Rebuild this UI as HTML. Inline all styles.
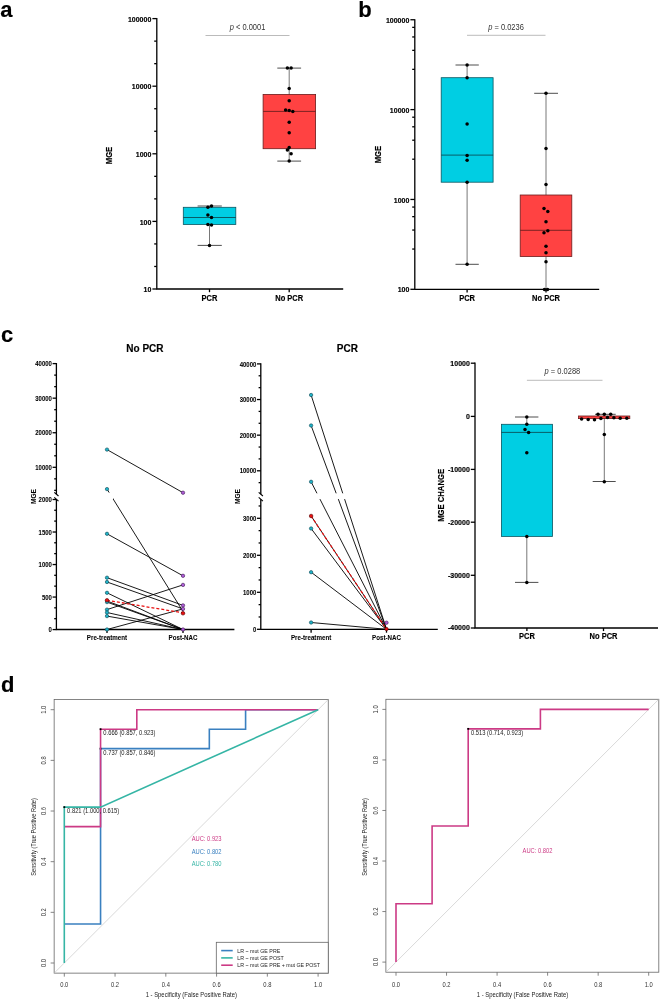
<!DOCTYPE html>
<html><head><meta charset="utf-8"><style>
html,body{margin:0;padding:0;background:#fff;width:660px;height:999px;overflow:hidden}
svg{display:block;font-family:"Liberation Sans",sans-serif;-webkit-font-smoothing:antialiased;will-change:transform}
</style></head><body>
<svg width="660" height="999" viewBox="0 0 660 999">
<rect width="660" height="999" fill="#fff"/>
<text transform="translate(0.30 17.20) scale(1 1.0)" font-size="22" text-anchor="start" font-weight="bold" fill="#000" stroke="#000" stroke-width="0.15" >a</text>
<text transform="translate(358.30 17.20) scale(1 1.0)" font-size="22" text-anchor="start" font-weight="bold" fill="#000" stroke="#000" stroke-width="0.15" >b</text>
<text transform="translate(1.00 341.90) scale(1 1.0)" font-size="22" text-anchor="start" font-weight="bold" fill="#000" stroke="#000" stroke-width="0.15" >c</text>
<text transform="translate(1.00 691.70) scale(1 1.0)" font-size="22" text-anchor="start" font-weight="bold" fill="#000" stroke="#000" stroke-width="0.15" >d</text>
<path d="M156.8,18.0 V289.0 H343.2" fill="none" stroke="#000" stroke-width="1.3" stroke-linecap="butt"/>
<line x1="152.40" y1="289.00" x2="156.80" y2="289.00" stroke="#000" stroke-width="1.3" />
<text transform="translate(151.30 292.10) scale(1 1.12)" font-size="7" text-anchor="end" font-weight="bold" fill="#000" stroke="#000" stroke-width="0.15" >10</text>
<line x1="154.20" y1="266.47" x2="156.80" y2="266.47" stroke="#000" stroke-width="1.3" />
<line x1="154.20" y1="243.93" x2="156.80" y2="243.93" stroke="#000" stroke-width="1.3" />
<line x1="152.40" y1="221.40" x2="156.80" y2="221.40" stroke="#000" stroke-width="1.3" />
<text transform="translate(151.30 224.50) scale(1 1.12)" font-size="7" text-anchor="end" font-weight="bold" fill="#000" stroke="#000" stroke-width="0.15" >100</text>
<line x1="154.20" y1="198.87" x2="156.80" y2="198.87" stroke="#000" stroke-width="1.3" />
<line x1="154.20" y1="176.33" x2="156.80" y2="176.33" stroke="#000" stroke-width="1.3" />
<line x1="152.40" y1="153.80" x2="156.80" y2="153.80" stroke="#000" stroke-width="1.3" />
<text transform="translate(151.30 156.90) scale(1 1.12)" font-size="7" text-anchor="end" font-weight="bold" fill="#000" stroke="#000" stroke-width="0.15" >1000</text>
<line x1="154.20" y1="131.27" x2="156.80" y2="131.27" stroke="#000" stroke-width="1.3" />
<line x1="154.20" y1="108.73" x2="156.80" y2="108.73" stroke="#000" stroke-width="1.3" />
<line x1="152.40" y1="86.20" x2="156.80" y2="86.20" stroke="#000" stroke-width="1.3" />
<text transform="translate(151.30 89.30) scale(1 1.12)" font-size="7" text-anchor="end" font-weight="bold" fill="#000" stroke="#000" stroke-width="0.15" >10000</text>
<line x1="154.20" y1="63.67" x2="156.80" y2="63.67" stroke="#000" stroke-width="1.3" />
<line x1="154.20" y1="41.13" x2="156.80" y2="41.13" stroke="#000" stroke-width="1.3" />
<line x1="152.40" y1="18.60" x2="156.80" y2="18.60" stroke="#000" stroke-width="1.3" />
<text transform="translate(151.30 21.70) scale(1 1.12)" font-size="7" text-anchor="end" font-weight="bold" fill="#000" stroke="#000" stroke-width="0.15" >100000</text>
<line x1="209.50" y1="289.00" x2="209.50" y2="292.20" stroke="#000" stroke-width="1.3" />
<line x1="289.20" y1="289.00" x2="289.20" y2="292.20" stroke="#000" stroke-width="1.3" />
<text transform="translate(209.50 300.80) scale(1 1.12)" font-size="7.5" text-anchor="middle" font-weight="bold" fill="#000" stroke="#000" stroke-width="0.15" >PCR</text>
<text transform="translate(289.20 300.80) scale(1 1.12)" font-size="7.5" text-anchor="middle" font-weight="bold" fill="#000" stroke="#000" stroke-width="0.15" >No PCR</text>
<text transform="translate(111.80 155.50) rotate(-90) scale(1 1.12)" font-size="7.7" text-anchor="middle" font-weight="bold" fill="#000" stroke="#000" stroke-width="0.15" >MGE</text>
<line x1="205.50" y1="35.50" x2="289.50" y2="35.50" stroke="#aaa" stroke-width="0.8" />
<text transform="translate(247.50 30.00) scale(1 1.12)" font-size="7.5" text-anchor="middle" font-weight="normal" fill="#333" ><tspan font-style="italic">p</tspan> &lt; 0.0001</text>
<line x1="209.50" y1="206.00" x2="209.50" y2="245.40" stroke="#555" stroke-width="0.8" />
<line x1="197.60" y1="206.00" x2="221.80" y2="206.00" stroke="#3a3a3a" stroke-width="0.9" />
<line x1="197.60" y1="245.40" x2="221.80" y2="245.40" stroke="#3a3a3a" stroke-width="0.9" />
<rect x="183.30" y="207.30" width="52.50" height="17.20" fill="#00CEE3" stroke="#0a5560" stroke-width="0.8"/>
<line x1="183.30" y1="217.50" x2="235.80" y2="217.50" stroke="#0a4048" stroke-width="0.8" />
<circle cx="207.90" cy="207.30" r="1.75" fill="#000"/>
<circle cx="211.50" cy="206.00" r="1.75" fill="#000"/>
<circle cx="207.90" cy="215.10" r="1.75" fill="#000"/>
<circle cx="211.50" cy="217.60" r="1.75" fill="#000"/>
<circle cx="207.90" cy="224.50" r="1.75" fill="#000"/>
<circle cx="211.50" cy="225.10" r="1.75" fill="#000"/>
<circle cx="209.50" cy="245.40" r="1.75" fill="#000"/>
<line x1="289.20" y1="68.10" x2="289.20" y2="161.10" stroke="#555" stroke-width="0.8" />
<line x1="277.30" y1="68.10" x2="301.10" y2="68.10" stroke="#3a3a3a" stroke-width="0.9" />
<line x1="277.30" y1="161.10" x2="301.10" y2="161.10" stroke="#3a3a3a" stroke-width="0.9" />
<rect x="263.10" y="94.40" width="52.50" height="54.30" fill="#FF4242" stroke="#6a1c1c" stroke-width="0.8"/>
<line x1="263.10" y1="111.40" x2="315.60" y2="111.40" stroke="#5a1a1a" stroke-width="0.8" />
<circle cx="287.40" cy="68.10" r="1.75" fill="#000"/>
<circle cx="291.10" cy="68.10" r="1.75" fill="#000"/>
<circle cx="289.20" cy="88.60" r="1.75" fill="#000"/>
<circle cx="289.20" cy="100.80" r="1.75" fill="#000"/>
<circle cx="285.60" cy="109.90" r="1.75" fill="#000"/>
<circle cx="289.20" cy="110.60" r="1.75" fill="#000"/>
<circle cx="292.80" cy="111.40" r="1.75" fill="#000"/>
<circle cx="289.20" cy="122.20" r="1.75" fill="#000"/>
<circle cx="289.20" cy="132.70" r="1.75" fill="#000"/>
<circle cx="289.20" cy="147.40" r="1.75" fill="#000"/>
<circle cx="287.40" cy="150.10" r="1.75" fill="#000"/>
<circle cx="291.10" cy="153.70" r="1.75" fill="#000"/>
<circle cx="289.20" cy="161.10" r="1.75" fill="#000"/>
<path d="M414.8,19.2 V289.3 H599.2" fill="none" stroke="#000" stroke-width="1.3" />
<line x1="410.40" y1="289.30" x2="414.80" y2="289.30" stroke="#000" stroke-width="1.3" />
<text transform="translate(409.30 292.40) scale(1 1.12)" font-size="7" text-anchor="end" font-weight="bold" fill="#000" stroke="#000" stroke-width="0.15" >100</text>
<line x1="412.20" y1="207.05" x2="414.80" y2="207.05" stroke="#000" stroke-width="1.3" />
<line x1="412.20" y1="216.65" x2="414.80" y2="216.65" stroke="#000" stroke-width="1.3" />
<line x1="412.20" y1="230.05" x2="414.80" y2="230.05" stroke="#000" stroke-width="1.3" />
<line x1="412.20" y1="249.05" x2="414.80" y2="249.05" stroke="#000" stroke-width="1.3" />
<line x1="410.40" y1="199.45" x2="414.80" y2="199.45" stroke="#000" stroke-width="1.3" />
<text transform="translate(409.30 202.55) scale(1 1.12)" font-size="7" text-anchor="end" font-weight="bold" fill="#000" stroke="#000" stroke-width="0.15" >1000</text>
<line x1="412.20" y1="117.20" x2="414.80" y2="117.20" stroke="#000" stroke-width="1.3" />
<line x1="412.20" y1="126.80" x2="414.80" y2="126.80" stroke="#000" stroke-width="1.3" />
<line x1="412.20" y1="140.20" x2="414.80" y2="140.20" stroke="#000" stroke-width="1.3" />
<line x1="412.20" y1="159.20" x2="414.80" y2="159.20" stroke="#000" stroke-width="1.3" />
<line x1="410.40" y1="109.60" x2="414.80" y2="109.60" stroke="#000" stroke-width="1.3" />
<text transform="translate(409.30 112.70) scale(1 1.12)" font-size="7" text-anchor="end" font-weight="bold" fill="#000" stroke="#000" stroke-width="0.15" >10000</text>
<line x1="412.20" y1="27.35" x2="414.80" y2="27.35" stroke="#000" stroke-width="1.3" />
<line x1="412.20" y1="36.95" x2="414.80" y2="36.95" stroke="#000" stroke-width="1.3" />
<line x1="412.20" y1="50.35" x2="414.80" y2="50.35" stroke="#000" stroke-width="1.3" />
<line x1="412.20" y1="69.35" x2="414.80" y2="69.35" stroke="#000" stroke-width="1.3" />
<line x1="410.40" y1="19.75" x2="414.80" y2="19.75" stroke="#000" stroke-width="1.3" />
<text transform="translate(409.30 22.85) scale(1 1.12)" font-size="7" text-anchor="end" font-weight="bold" fill="#000" stroke="#000" stroke-width="0.15" >100000</text>
<line x1="467.10" y1="289.30" x2="467.10" y2="292.50" stroke="#000" stroke-width="1.3" />
<line x1="546.00" y1="289.30" x2="546.00" y2="292.50" stroke="#000" stroke-width="1.3" />
<text transform="translate(467.10 300.80) scale(1 1.12)" font-size="7.5" text-anchor="middle" font-weight="bold" fill="#000" stroke="#000" stroke-width="0.15" >PCR</text>
<text transform="translate(546.00 300.80) scale(1 1.12)" font-size="7.5" text-anchor="middle" font-weight="bold" fill="#000" stroke="#000" stroke-width="0.15" >No PCR</text>
<text transform="translate(381.40 154.60) rotate(-90) scale(1 1.12)" font-size="7.7" text-anchor="middle" font-weight="bold" fill="#000" stroke="#000" stroke-width="0.15" >MGE</text>
<line x1="467.00" y1="35.30" x2="545.50" y2="35.30" stroke="#aaa" stroke-width="0.8" />
<text transform="translate(506.00 29.80) scale(1 1.12)" font-size="7.5" text-anchor="middle" font-weight="normal" fill="#333" ><tspan font-style="italic">p</tspan> = 0.0236</text>
<line x1="467.10" y1="65.00" x2="467.10" y2="264.30" stroke="#555" stroke-width="0.8" />
<line x1="455.50" y1="65.00" x2="478.80" y2="65.00" stroke="#3a3a3a" stroke-width="0.9" />
<line x1="455.50" y1="264.30" x2="478.80" y2="264.30" stroke="#3a3a3a" stroke-width="0.9" />
<rect x="441.20" y="77.70" width="51.90" height="104.50" fill="#00CEE3" stroke="#0a5560" stroke-width="0.8"/>
<line x1="441.20" y1="155.10" x2="493.10" y2="155.10" stroke="#0a4048" stroke-width="0.8" />
<circle cx="467.10" cy="65.00" r="1.75" fill="#000"/>
<circle cx="467.10" cy="77.70" r="1.75" fill="#000"/>
<circle cx="467.10" cy="124.00" r="1.75" fill="#000"/>
<circle cx="467.10" cy="155.50" r="1.75" fill="#000"/>
<circle cx="467.10" cy="160.20" r="1.75" fill="#000"/>
<circle cx="467.10" cy="182.20" r="1.75" fill="#000"/>
<circle cx="467.10" cy="264.30" r="1.75" fill="#000"/>
<line x1="546.00" y1="93.30" x2="546.00" y2="289.30" stroke="#555" stroke-width="0.8" />
<line x1="534.20" y1="93.30" x2="558.00" y2="93.30" stroke="#3a3a3a" stroke-width="0.9" />
<rect x="520.20" y="195.00" width="51.60" height="61.50" fill="#FF4242" stroke="#6a1c1c" stroke-width="0.8"/>
<line x1="520.20" y1="230.30" x2="571.80" y2="230.30" stroke="#5a1a1a" stroke-width="0.8" />
<circle cx="546.00" cy="93.30" r="1.75" fill="#000"/>
<circle cx="546.00" cy="148.60" r="1.75" fill="#000"/>
<circle cx="546.00" cy="184.40" r="1.75" fill="#000"/>
<circle cx="544.00" cy="208.40" r="1.75" fill="#000"/>
<circle cx="547.80" cy="211.40" r="1.75" fill="#000"/>
<circle cx="546.00" cy="221.80" r="1.75" fill="#000"/>
<circle cx="547.80" cy="230.80" r="1.75" fill="#000"/>
<circle cx="544.00" cy="232.80" r="1.75" fill="#000"/>
<circle cx="546.00" cy="246.20" r="1.75" fill="#000"/>
<circle cx="546.00" cy="252.70" r="1.75" fill="#000"/>
<circle cx="546.00" cy="261.70" r="1.75" fill="#000"/>
<circle cx="544.50" cy="289.50" r="1.75" fill="#000"/>
<circle cx="547.50" cy="289.50" r="1.75" fill="#000"/>
<path d="M56.4,363.0 V494.2" fill="none" stroke="#000" stroke-width="1.3" />
<path d="M56.4,499.2 V629.5 H234.4" fill="none" stroke="#000" stroke-width="1.3" />
<line x1="52.60" y1="363.60" x2="56.40" y2="363.60" stroke="#000" stroke-width="1.3" />
<text transform="translate(51.90 366.20) scale(1 1.12)" font-size="6" text-anchor="end" font-weight="bold" fill="#000" stroke="#000" stroke-width="0.05" >40000</text>
<line x1="52.60" y1="398.17" x2="56.40" y2="398.17" stroke="#000" stroke-width="1.3" />
<text transform="translate(51.90 400.77) scale(1 1.12)" font-size="6" text-anchor="end" font-weight="bold" fill="#000" stroke="#000" stroke-width="0.05" >30000</text>
<line x1="52.60" y1="432.74" x2="56.40" y2="432.74" stroke="#000" stroke-width="1.3" />
<text transform="translate(51.90 435.34) scale(1 1.12)" font-size="6" text-anchor="end" font-weight="bold" fill="#000" stroke="#000" stroke-width="0.05" >20000</text>
<line x1="52.60" y1="467.31" x2="56.40" y2="467.31" stroke="#000" stroke-width="1.3" />
<text transform="translate(51.90 469.91) scale(1 1.12)" font-size="6" text-anchor="end" font-weight="bold" fill="#000" stroke="#000" stroke-width="0.05" >10000</text>
<line x1="54.20" y1="375.12" x2="56.40" y2="375.12" stroke="#000" stroke-width="1.3" />
<line x1="54.20" y1="386.65" x2="56.40" y2="386.65" stroke="#000" stroke-width="1.3" />
<line x1="54.20" y1="409.69" x2="56.40" y2="409.69" stroke="#000" stroke-width="1.3" />
<line x1="54.20" y1="421.22" x2="56.40" y2="421.22" stroke="#000" stroke-width="1.3" />
<line x1="54.20" y1="444.26" x2="56.40" y2="444.26" stroke="#000" stroke-width="1.3" />
<line x1="54.20" y1="455.79" x2="56.40" y2="455.79" stroke="#000" stroke-width="1.3" />
<line x1="54.20" y1="478.83" x2="56.40" y2="478.83" stroke="#000" stroke-width="1.3" />
<line x1="54.20" y1="490.36" x2="56.40" y2="490.36" stroke="#000" stroke-width="1.3" />
<line x1="52.60" y1="499.50" x2="56.40" y2="499.50" stroke="#000" stroke-width="1.3" />
<text transform="translate(51.90 502.10) scale(1 1.12)" font-size="6" text-anchor="end" font-weight="bold" fill="#000" stroke="#000" stroke-width="0.05" >2000</text>
<line x1="52.60" y1="532.02" x2="56.40" y2="532.02" stroke="#000" stroke-width="1.3" />
<text transform="translate(51.90 534.62) scale(1 1.12)" font-size="6" text-anchor="end" font-weight="bold" fill="#000" stroke="#000" stroke-width="0.05" >1500</text>
<line x1="52.60" y1="564.54" x2="56.40" y2="564.54" stroke="#000" stroke-width="1.3" />
<text transform="translate(51.90 567.14) scale(1 1.12)" font-size="6" text-anchor="end" font-weight="bold" fill="#000" stroke="#000" stroke-width="0.05" >1000</text>
<line x1="52.60" y1="597.06" x2="56.40" y2="597.06" stroke="#000" stroke-width="1.3" />
<text transform="translate(51.90 599.66) scale(1 1.12)" font-size="6" text-anchor="end" font-weight="bold" fill="#000" stroke="#000" stroke-width="0.05" >500</text>
<line x1="52.60" y1="629.58" x2="56.40" y2="629.58" stroke="#000" stroke-width="1.3" />
<text transform="translate(51.90 632.18) scale(1 1.12)" font-size="6" text-anchor="end" font-weight="bold" fill="#000" stroke="#000" stroke-width="0.05" >0</text>
<line x1="54.20" y1="618.66" x2="56.40" y2="618.66" stroke="#000" stroke-width="1.3" />
<line x1="54.20" y1="607.82" x2="56.40" y2="607.82" stroke="#000" stroke-width="1.3" />
<line x1="54.20" y1="586.14" x2="56.40" y2="586.14" stroke="#000" stroke-width="1.3" />
<line x1="54.20" y1="575.30" x2="56.40" y2="575.30" stroke="#000" stroke-width="1.3" />
<line x1="54.20" y1="553.62" x2="56.40" y2="553.62" stroke="#000" stroke-width="1.3" />
<line x1="54.20" y1="542.78" x2="56.40" y2="542.78" stroke="#000" stroke-width="1.3" />
<line x1="54.20" y1="521.10" x2="56.40" y2="521.10" stroke="#000" stroke-width="1.3" />
<line x1="54.20" y1="510.26" x2="56.40" y2="510.26" stroke="#000" stroke-width="1.3" />
<line x1="54.30" y1="492.30" x2="58.50" y2="496.00" stroke="#000" stroke-width="1.1" />
<line x1="54.30" y1="497.40" x2="58.50" y2="501.10" stroke="#000" stroke-width="1.1" />
<line x1="107.00" y1="629.50" x2="107.00" y2="632.90" stroke="#000" stroke-width="1.3" />
<line x1="183.00" y1="629.50" x2="183.00" y2="632.90" stroke="#000" stroke-width="1.3" />
<text transform="translate(107.00 640.20) scale(1 1.12)" font-size="6.2" text-anchor="middle" font-weight="bold" fill="#000" stroke="#000" stroke-width="0.05" >Pre-treatment</text>
<text transform="translate(183.00 640.20) scale(1 1.12)" font-size="6.2" text-anchor="middle" font-weight="bold" fill="#000" stroke="#000" stroke-width="0.05" >Post-NAC</text>
<text transform="translate(144.90 351.70) scale(1 1.0)" font-size="10" text-anchor="middle" font-weight="bold" fill="#000" stroke="#000" stroke-width="0.15" >No PCR</text>
<text transform="translate(35.60 496.60) rotate(-90) scale(1 1.12)" font-size="6.6" text-anchor="middle" font-weight="bold" fill="#000" stroke="#000" stroke-width="0.05" >MGE</text>
<path d="M260.8,363.29999999999995 V494.2" fill="none" stroke="#000" stroke-width="1.3" />
<path d="M260.8,499.2 V629.3 H437.8" fill="none" stroke="#000" stroke-width="1.3" />
<line x1="257.00" y1="363.90" x2="260.80" y2="363.90" stroke="#000" stroke-width="1.3" />
<text transform="translate(256.30 366.50) scale(1 1.12)" font-size="6" text-anchor="end" font-weight="bold" fill="#000" stroke="#000" stroke-width="0.05" >40000</text>
<line x1="257.00" y1="399.53" x2="260.80" y2="399.53" stroke="#000" stroke-width="1.3" />
<text transform="translate(256.30 402.13) scale(1 1.12)" font-size="6" text-anchor="end" font-weight="bold" fill="#000" stroke="#000" stroke-width="0.05" >30000</text>
<line x1="257.00" y1="435.16" x2="260.80" y2="435.16" stroke="#000" stroke-width="1.3" />
<text transform="translate(256.30 437.76) scale(1 1.12)" font-size="6" text-anchor="end" font-weight="bold" fill="#000" stroke="#000" stroke-width="0.05" >20000</text>
<line x1="257.00" y1="470.79" x2="260.80" y2="470.79" stroke="#000" stroke-width="1.3" />
<text transform="translate(256.30 473.39) scale(1 1.12)" font-size="6" text-anchor="end" font-weight="bold" fill="#000" stroke="#000" stroke-width="0.05" >10000</text>
<line x1="258.60" y1="375.78" x2="260.80" y2="375.78" stroke="#000" stroke-width="1.3" />
<line x1="258.60" y1="387.65" x2="260.80" y2="387.65" stroke="#000" stroke-width="1.3" />
<line x1="258.60" y1="411.41" x2="260.80" y2="411.41" stroke="#000" stroke-width="1.3" />
<line x1="258.60" y1="423.28" x2="260.80" y2="423.28" stroke="#000" stroke-width="1.3" />
<line x1="258.60" y1="447.04" x2="260.80" y2="447.04" stroke="#000" stroke-width="1.3" />
<line x1="258.60" y1="458.91" x2="260.80" y2="458.91" stroke="#000" stroke-width="1.3" />
<line x1="258.60" y1="482.67" x2="260.80" y2="482.67" stroke="#000" stroke-width="1.3" />
<line x1="257.00" y1="518.30" x2="260.80" y2="518.30" stroke="#000" stroke-width="1.3" />
<text transform="translate(256.30 520.90) scale(1 1.12)" font-size="6" text-anchor="end" font-weight="bold" fill="#000" stroke="#000" stroke-width="0.05" >3000</text>
<line x1="257.00" y1="555.30" x2="260.80" y2="555.30" stroke="#000" stroke-width="1.3" />
<text transform="translate(256.30 557.90) scale(1 1.12)" font-size="6" text-anchor="end" font-weight="bold" fill="#000" stroke="#000" stroke-width="0.05" >2000</text>
<line x1="257.00" y1="592.30" x2="260.80" y2="592.30" stroke="#000" stroke-width="1.3" />
<text transform="translate(256.30 594.90) scale(1 1.12)" font-size="6" text-anchor="end" font-weight="bold" fill="#000" stroke="#000" stroke-width="0.05" >1000</text>
<line x1="257.00" y1="629.30" x2="260.80" y2="629.30" stroke="#000" stroke-width="1.3" />
<text transform="translate(256.30 631.90) scale(1 1.12)" font-size="6" text-anchor="end" font-weight="bold" fill="#000" stroke="#000" stroke-width="0.05" >0</text>
<line x1="258.60" y1="616.97" x2="260.80" y2="616.97" stroke="#000" stroke-width="1.3" />
<line x1="258.60" y1="604.63" x2="260.80" y2="604.63" stroke="#000" stroke-width="1.3" />
<line x1="258.60" y1="579.97" x2="260.80" y2="579.97" stroke="#000" stroke-width="1.3" />
<line x1="258.60" y1="567.63" x2="260.80" y2="567.63" stroke="#000" stroke-width="1.3" />
<line x1="258.60" y1="542.97" x2="260.80" y2="542.97" stroke="#000" stroke-width="1.3" />
<line x1="258.60" y1="530.63" x2="260.80" y2="530.63" stroke="#000" stroke-width="1.3" />
<line x1="258.60" y1="505.97" x2="260.80" y2="505.97" stroke="#000" stroke-width="1.3" />
<line x1="258.70" y1="492.30" x2="262.90" y2="496.00" stroke="#000" stroke-width="1.1" />
<line x1="258.70" y1="497.40" x2="262.90" y2="501.10" stroke="#000" stroke-width="1.1" />
<line x1="311.10" y1="629.30" x2="311.10" y2="632.70" stroke="#000" stroke-width="1.3" />
<line x1="386.50" y1="629.30" x2="386.50" y2="632.70" stroke="#000" stroke-width="1.3" />
<text transform="translate(311.10 640.20) scale(1 1.12)" font-size="6.2" text-anchor="middle" font-weight="bold" fill="#000" stroke="#000" stroke-width="0.05" >Pre-treatment</text>
<text transform="translate(386.50 640.20) scale(1 1.12)" font-size="6.2" text-anchor="middle" font-weight="bold" fill="#000" stroke="#000" stroke-width="0.05" >Post-NAC</text>
<text transform="translate(347.40 351.70) scale(1 1.0)" font-size="10" text-anchor="middle" font-weight="bold" fill="#000" stroke="#000" stroke-width="0.15" >PCR</text>
<text transform="translate(240.20 496.60) rotate(-90) scale(1 1.12)" font-size="6.6" text-anchor="middle" font-weight="bold" fill="#000" stroke="#000" stroke-width="0.05" >MGE</text>
<line x1="107.00" y1="449.60" x2="183.00" y2="492.70" stroke="#000" stroke-width="0.9" />
<line x1="107.00" y1="489.10" x2="183.00" y2="611.50" stroke="#000" stroke-width="0.9" />
<line x1="107.00" y1="533.80" x2="183.00" y2="575.80" stroke="#000" stroke-width="0.9" />
<line x1="107.00" y1="577.70" x2="183.00" y2="605.40" stroke="#000" stroke-width="0.9" />
<line x1="107.00" y1="582.00" x2="183.00" y2="608.90" stroke="#000" stroke-width="0.9" />
<line x1="107.00" y1="592.80" x2="183.00" y2="629.50" stroke="#000" stroke-width="0.9" />
<line x1="107.00" y1="602.10" x2="183.00" y2="629.50" stroke="#000" stroke-width="0.9" />
<line x1="107.00" y1="601.00" x2="183.00" y2="629.50" stroke="#000" stroke-width="0.9" />
<line x1="107.00" y1="609.60" x2="183.00" y2="584.90" stroke="#000" stroke-width="0.9" />
<line x1="107.00" y1="612.50" x2="183.00" y2="629.50" stroke="#000" stroke-width="0.9" />
<line x1="107.00" y1="616.10" x2="183.00" y2="629.50" stroke="#000" stroke-width="0.9" />
<line x1="107.00" y1="629.50" x2="183.00" y2="608.90" stroke="#000" stroke-width="0.9" />
<rect x="107" y="492.6" width="6" height="6.4" fill="#fff"/>
<line x1="107.00" y1="600.30" x2="183.00" y2="612.80" stroke="#E81010" stroke-width="1.3" stroke-dasharray="3 2"/>
<circle cx="107.00" cy="449.60" r="1.7" fill="#1FB3C8" stroke="#0b4450" stroke-width="0.6"/>
<circle cx="107.00" cy="489.10" r="1.7" fill="#1FB3C8" stroke="#0b4450" stroke-width="0.6"/>
<circle cx="107.00" cy="533.80" r="1.7" fill="#1FB3C8" stroke="#0b4450" stroke-width="0.6"/>
<circle cx="107.00" cy="577.70" r="1.7" fill="#1FB3C8" stroke="#0b4450" stroke-width="0.6"/>
<circle cx="107.00" cy="582.00" r="1.7" fill="#1FB3C8" stroke="#0b4450" stroke-width="0.6"/>
<circle cx="107.00" cy="592.80" r="1.7" fill="#1FB3C8" stroke="#0b4450" stroke-width="0.6"/>
<circle cx="107.00" cy="602.10" r="1.7" fill="#1FB3C8" stroke="#0b4450" stroke-width="0.6"/>
<circle cx="107.00" cy="609.60" r="1.7" fill="#1FB3C8" stroke="#0b4450" stroke-width="0.6"/>
<circle cx="107.00" cy="612.50" r="1.7" fill="#1FB3C8" stroke="#0b4450" stroke-width="0.6"/>
<circle cx="107.00" cy="616.10" r="1.7" fill="#1FB3C8" stroke="#0b4450" stroke-width="0.6"/>
<circle cx="107.00" cy="629.50" r="1.7" fill="#1FB3C8" stroke="#0b4450" stroke-width="0.6"/>
<circle cx="107.00" cy="600.30" r="1.8" fill="#E81010" stroke="#500" stroke-width="0.6"/>
<circle cx="183.00" cy="492.70" r="1.7" fill="#B05CD8" stroke="#3a1650" stroke-width="0.6"/>
<circle cx="183.00" cy="575.80" r="1.7" fill="#B05CD8" stroke="#3a1650" stroke-width="0.6"/>
<circle cx="183.00" cy="584.90" r="1.7" fill="#B05CD8" stroke="#3a1650" stroke-width="0.6"/>
<circle cx="183.00" cy="605.40" r="1.7" fill="#B05CD8" stroke="#3a1650" stroke-width="0.6"/>
<circle cx="183.00" cy="608.90" r="1.7" fill="#B05CD8" stroke="#3a1650" stroke-width="0.6"/>
<circle cx="183.00" cy="629.50" r="1.7" fill="#B05CD8" stroke="#3a1650" stroke-width="0.6"/>
<circle cx="183.00" cy="613.30" r="1.8" fill="#E81010" stroke="#500" stroke-width="0.6"/>
<line x1="311.10" y1="395.00" x2="386.50" y2="629.30" stroke="#000" stroke-width="0.9" />
<line x1="311.10" y1="425.50" x2="386.50" y2="629.30" stroke="#000" stroke-width="0.9" />
<line x1="311.10" y1="481.80" x2="386.50" y2="629.30" stroke="#000" stroke-width="0.9" />
<line x1="311.10" y1="528.50" x2="386.50" y2="629.30" stroke="#000" stroke-width="0.9" />
<line x1="311.10" y1="572.20" x2="386.50" y2="629.30" stroke="#000" stroke-width="0.9" />
<line x1="311.10" y1="622.50" x2="386.50" y2="629.30" stroke="#000" stroke-width="0.9" />
<line x1="311.10" y1="516.00" x2="386.50" y2="629.30" stroke="#000" stroke-width="0.9" />
<rect x="300" y="493.3" width="75" height="5.8" fill="#fff"/>
<line x1="311.10" y1="516.00" x2="386.50" y2="629.30" stroke="#E81010" stroke-width="1.2" stroke-dasharray="3 2"/>
<circle cx="311.10" cy="395.00" r="1.7" fill="#1FB3C8" stroke="#0b4450" stroke-width="0.6"/>
<circle cx="311.10" cy="425.50" r="1.7" fill="#1FB3C8" stroke="#0b4450" stroke-width="0.6"/>
<circle cx="311.10" cy="481.80" r="1.7" fill="#1FB3C8" stroke="#0b4450" stroke-width="0.6"/>
<circle cx="311.10" cy="528.50" r="1.7" fill="#1FB3C8" stroke="#0b4450" stroke-width="0.6"/>
<circle cx="311.10" cy="572.20" r="1.7" fill="#1FB3C8" stroke="#0b4450" stroke-width="0.6"/>
<circle cx="311.10" cy="622.50" r="1.7" fill="#1FB3C8" stroke="#0b4450" stroke-width="0.6"/>
<circle cx="311.10" cy="516.00" r="1.8" fill="#E81010" stroke="#500" stroke-width="0.6"/>
<circle cx="386.50" cy="622.70" r="1.7" fill="#B05CD8" stroke="#3a1650" stroke-width="0.6"/>
<circle cx="386.50" cy="629.00" r="1.7" fill="#E81010" stroke="#500" stroke-width="0.6"/>
<path d="M475.0,362.6 V628.0 H658.0" fill="none" stroke="#000" stroke-width="1.3" />
<line x1="470.80" y1="363.20" x2="475.00" y2="363.20" stroke="#000" stroke-width="1.3" />
<text transform="translate(469.80 365.60) scale(1 1.12)" font-size="7" text-anchor="end" font-weight="bold" fill="#000" stroke="#000" stroke-width="0.15" >10000</text>
<line x1="470.80" y1="416.40" x2="475.00" y2="416.40" stroke="#000" stroke-width="1.3" />
<text transform="translate(469.80 418.80) scale(1 1.12)" font-size="7" text-anchor="end" font-weight="bold" fill="#000" stroke="#000" stroke-width="0.15" >0</text>
<line x1="470.80" y1="469.40" x2="475.00" y2="469.40" stroke="#000" stroke-width="1.3" />
<text transform="translate(469.80 471.80) scale(1 1.12)" font-size="7" text-anchor="end" font-weight="bold" fill="#000" stroke="#000" stroke-width="0.15" >-10000</text>
<line x1="470.80" y1="522.20" x2="475.00" y2="522.20" stroke="#000" stroke-width="1.3" />
<text transform="translate(469.80 524.60) scale(1 1.12)" font-size="7" text-anchor="end" font-weight="bold" fill="#000" stroke="#000" stroke-width="0.15" >-20000</text>
<line x1="470.80" y1="575.30" x2="475.00" y2="575.30" stroke="#000" stroke-width="1.3" />
<text transform="translate(469.80 577.70) scale(1 1.12)" font-size="7" text-anchor="end" font-weight="bold" fill="#000" stroke="#000" stroke-width="0.15" >-30000</text>
<line x1="470.80" y1="628.00" x2="475.00" y2="628.00" stroke="#000" stroke-width="1.3" />
<text transform="translate(469.80 630.40) scale(1 1.12)" font-size="7" text-anchor="end" font-weight="bold" fill="#000" stroke="#000" stroke-width="0.15" >-40000</text>
<line x1="526.90" y1="628.00" x2="526.90" y2="631.10" stroke="#000" stroke-width="1.3" />
<line x1="603.50" y1="628.00" x2="603.50" y2="631.10" stroke="#000" stroke-width="1.3" />
<text transform="translate(526.90 639.40) scale(1 1.12)" font-size="7.5" text-anchor="middle" font-weight="bold" fill="#000" stroke="#000" stroke-width="0.15" >PCR</text>
<text transform="translate(603.50 639.40) scale(1 1.12)" font-size="7.5" text-anchor="middle" font-weight="bold" fill="#000" stroke="#000" stroke-width="0.15" >No PCR</text>
<text transform="translate(444.40 495.40) rotate(-90) scale(1 1.12)" font-size="7.7" text-anchor="middle" font-weight="bold" fill="#000" stroke="#000" stroke-width="0.15" >MGE CHANGE</text>
<line x1="526.90" y1="380.30" x2="602.50" y2="380.30" stroke="#aaa" stroke-width="0.8" />
<text transform="translate(562.40 374.20) scale(1 1.12)" font-size="7.5" text-anchor="middle" font-weight="normal" fill="#333" ><tspan font-style="italic">p</tspan> = 0.0288</text>
<line x1="526.80" y1="417.00" x2="526.80" y2="582.40" stroke="#555" stroke-width="0.8" />
<line x1="515.00" y1="417.00" x2="538.40" y2="417.00" stroke="#3a3a3a" stroke-width="0.9" />
<line x1="515.00" y1="582.40" x2="538.40" y2="582.40" stroke="#3a3a3a" stroke-width="0.9" />
<rect x="501.40" y="424.30" width="51.10" height="112.10" fill="#00CEE3" stroke="#0a5560" stroke-width="0.8"/>
<line x1="501.40" y1="432.40" x2="552.50" y2="432.40" stroke="#0a4048" stroke-width="0.8" />
<circle cx="526.80" cy="417.00" r="1.75" fill="#000"/>
<circle cx="526.80" cy="424.30" r="1.75" fill="#000"/>
<circle cx="525.00" cy="429.50" r="1.75" fill="#000"/>
<circle cx="528.60" cy="432.50" r="1.75" fill="#000"/>
<circle cx="526.80" cy="452.70" r="1.75" fill="#000"/>
<circle cx="526.80" cy="536.40" r="1.75" fill="#000"/>
<circle cx="526.80" cy="582.40" r="1.75" fill="#000"/>
<line x1="604.30" y1="414.30" x2="604.30" y2="481.50" stroke="#555" stroke-width="0.8" />
<line x1="595.00" y1="414.30" x2="615.70" y2="414.30" stroke="#3a3a3a" stroke-width="0.9" />
<line x1="592.70" y1="481.50" x2="615.70" y2="481.50" stroke="#3a3a3a" stroke-width="0.9" />
<rect x="578.60" y="416.00" width="51.20" height="2.60" fill="#FF4242" stroke="#6a1c1c" stroke-width="0.8"/>
<circle cx="598.00" cy="414.30" r="1.75" fill="#000"/>
<circle cx="604.30" cy="414.30" r="1.75" fill="#000"/>
<circle cx="610.70" cy="414.30" r="1.75" fill="#000"/>
<circle cx="581.60" cy="418.90" r="1.75" fill="#000"/>
<circle cx="588.20" cy="419.50" r="1.75" fill="#000"/>
<circle cx="594.50" cy="419.80" r="1.75" fill="#000"/>
<circle cx="600.90" cy="418.60" r="1.75" fill="#000"/>
<circle cx="607.50" cy="417.50" r="1.75" fill="#000"/>
<circle cx="613.90" cy="417.70" r="1.75" fill="#000"/>
<circle cx="620.20" cy="418.20" r="1.75" fill="#000"/>
<circle cx="626.80" cy="418.20" r="1.75" fill="#000"/>
<circle cx="604.30" cy="434.50" r="1.75" fill="#000"/>
<circle cx="604.30" cy="481.80" r="1.75" fill="#000"/>
<rect x="54.15" y="699.57" width="274.10" height="273.56" fill="none" stroke="#666" stroke-width="0.8"/>
<line x1="54.15" y1="973.13" x2="328.25" y2="699.57" stroke="#c8c8c8" stroke-width="0.7" />
<line x1="64.30" y1="973.13" x2="64.30" y2="976.63" stroke="#666" stroke-width="0.8" />
<text transform="translate(64.30 986.50) scale(1 1.12)" font-size="5.8" text-anchor="middle" font-weight="normal" fill="#333" >0.0</text>
<line x1="50.65" y1="963.00" x2="54.15" y2="963.00" stroke="#666" stroke-width="0.8" />
<text transform="translate(46.15 963.00) rotate(-90) scale(1 1.12)" font-size="5.8" text-anchor="middle" font-weight="normal" fill="#333" >0.0</text>
<line x1="115.06" y1="973.13" x2="115.06" y2="976.63" stroke="#666" stroke-width="0.8" />
<text transform="translate(115.06 986.50) scale(1 1.12)" font-size="5.8" text-anchor="middle" font-weight="normal" fill="#333" >0.2</text>
<line x1="50.65" y1="912.34" x2="54.15" y2="912.34" stroke="#666" stroke-width="0.8" />
<text transform="translate(46.15 912.34) rotate(-90) scale(1 1.12)" font-size="5.8" text-anchor="middle" font-weight="normal" fill="#333" >0.2</text>
<line x1="165.82" y1="973.13" x2="165.82" y2="976.63" stroke="#666" stroke-width="0.8" />
<text transform="translate(165.82 986.50) scale(1 1.12)" font-size="5.8" text-anchor="middle" font-weight="normal" fill="#333" >0.4</text>
<line x1="50.65" y1="861.68" x2="54.15" y2="861.68" stroke="#666" stroke-width="0.8" />
<text transform="translate(46.15 861.68) rotate(-90) scale(1 1.12)" font-size="5.8" text-anchor="middle" font-weight="normal" fill="#333" >0.4</text>
<line x1="216.58" y1="973.13" x2="216.58" y2="976.63" stroke="#666" stroke-width="0.8" />
<text transform="translate(216.58 986.50) scale(1 1.12)" font-size="5.8" text-anchor="middle" font-weight="normal" fill="#333" >0.6</text>
<line x1="50.65" y1="811.02" x2="54.15" y2="811.02" stroke="#666" stroke-width="0.8" />
<text transform="translate(46.15 811.02) rotate(-90) scale(1 1.12)" font-size="5.8" text-anchor="middle" font-weight="normal" fill="#333" >0.6</text>
<line x1="267.34" y1="973.13" x2="267.34" y2="976.63" stroke="#666" stroke-width="0.8" />
<text transform="translate(267.34 986.50) scale(1 1.12)" font-size="5.8" text-anchor="middle" font-weight="normal" fill="#333" >0.8</text>
<line x1="50.65" y1="760.36" x2="54.15" y2="760.36" stroke="#666" stroke-width="0.8" />
<text transform="translate(46.15 760.36) rotate(-90) scale(1 1.12)" font-size="5.8" text-anchor="middle" font-weight="normal" fill="#333" >0.8</text>
<line x1="318.10" y1="973.13" x2="318.10" y2="976.63" stroke="#666" stroke-width="0.8" />
<text transform="translate(318.10 986.50) scale(1 1.12)" font-size="5.8" text-anchor="middle" font-weight="normal" fill="#333" >1.0</text>
<line x1="50.65" y1="709.70" x2="54.15" y2="709.70" stroke="#666" stroke-width="0.8" />
<text transform="translate(46.15 709.70) rotate(-90) scale(1 1.12)" font-size="5.8" text-anchor="middle" font-weight="normal" fill="#333" >1.0</text>
<text transform="translate(191.30 996.90) scale(1 1.12)" font-size="5.9" text-anchor="middle" font-weight="normal" fill="#222" >1 - Specificity (False Positive Rate)</text>
<text transform="translate(35.80 837.00) rotate(-90) scale(1 1.12)" font-size="5.7" text-anchor="middle" font-weight="normal" fill="#222" >Sensitivity (True Positive Rate)</text>
<path d="M64.30,924.03 L100.56,924.03 L100.56,748.67 L209.33,748.67 L209.33,729.18 L245.59,729.18 L245.59,709.70 L318.10,709.70" fill="none" stroke="#3A80C0" stroke-width="1.6" stroke-linejoin="miter" stroke-linecap="butt"/>
<rect x="99.66" y="747.77" width="1.8" height="1.8" fill="#000"/>
<path d="M64.30,826.61 L100.56,826.61 L100.56,729.18 L136.81,729.18 L136.81,709.70 L318.10,709.70" fill="none" stroke="#CC3A85" stroke-width="1.6" stroke-linejoin="miter" stroke-linecap="butt"/>
<rect x="99.66" y="728.28" width="1.8" height="1.8" fill="#000"/>
<path d="M64.30,963.00 L64.30,807.12 L100.56,807.12 L318.10,709.70" fill="none" stroke="#35B5A5" stroke-width="1.6" stroke-linejoin="miter" stroke-linecap="butt"/>
<rect x="63.40" y="806.22" width="1.8" height="1.8" fill="#000"/>
<text transform="translate(103.36 754.67) scale(1 1.12)" font-size="5.8" text-anchor="start" font-weight="normal" fill="#222" >0.737 (0.857, 0.846)</text>
<text transform="translate(103.36 735.18) scale(1 1.12)" font-size="5.8" text-anchor="start" font-weight="normal" fill="#222" >0.666 (0.857, 0.923)</text>
<text transform="translate(67.10 813.12) scale(1 1.12)" font-size="5.8" text-anchor="start" font-weight="normal" fill="#222" >0.821 (1.000, 0.615)</text>
<text transform="translate(206.60 840.90) scale(1 1.12)" font-size="5.8" text-anchor="middle" font-weight="normal" fill="#CC3A85" >AUC: 0.923</text>
<text transform="translate(206.60 853.60) scale(1 1.12)" font-size="5.8" text-anchor="middle" font-weight="normal" fill="#3A80C0" >AUC: 0.802</text>
<text transform="translate(206.60 866.30) scale(1 1.12)" font-size="5.8" text-anchor="middle" font-weight="normal" fill="#35B5A5" >AUC: 0.780</text>
<rect x="216.30" y="942.30" width="111.95" height="30.83" fill="#fff" stroke="#666" stroke-width="0.8"/>
<line x1="221.20" y1="950.60" x2="232.70" y2="950.60" stroke="#3A80C0" stroke-width="1.6" />
<text transform="translate(237.20 952.60) scale(1 1.12)" font-size="5.3" text-anchor="start" font-weight="normal" fill="#222" >LR ~ mut GE PRE</text>
<line x1="221.20" y1="957.90" x2="232.70" y2="957.90" stroke="#35B5A5" stroke-width="1.6" />
<text transform="translate(237.20 959.90) scale(1 1.12)" font-size="5.3" text-anchor="start" font-weight="normal" fill="#222" >LR ~ mut GE POST</text>
<line x1="221.20" y1="965.20" x2="232.70" y2="965.20" stroke="#CC3A85" stroke-width="1.6" />
<text transform="translate(237.20 967.20) scale(1 1.12)" font-size="5.3" text-anchor="start" font-weight="normal" fill="#222" >LR ~ mut GE PRE + mut GE POST</text>
<rect x="385.89" y="699.29" width="272.92" height="272.92" fill="none" stroke="#666" stroke-width="0.8"/>
<line x1="385.89" y1="972.21" x2="658.81" y2="699.29" stroke="#c8c8c8" stroke-width="0.7" />
<line x1="396.00" y1="972.21" x2="396.00" y2="975.71" stroke="#666" stroke-width="0.8" />
<text transform="translate(396.00 986.50) scale(1 1.12)" font-size="5.8" text-anchor="middle" font-weight="normal" fill="#333" >0.0</text>
<line x1="382.39" y1="962.10" x2="385.89" y2="962.10" stroke="#666" stroke-width="0.8" />
<text transform="translate(377.89 962.10) rotate(-90) scale(1 1.12)" font-size="5.8" text-anchor="middle" font-weight="normal" fill="#333" >0.0</text>
<line x1="446.54" y1="972.21" x2="446.54" y2="975.71" stroke="#666" stroke-width="0.8" />
<text transform="translate(446.54 986.50) scale(1 1.12)" font-size="5.8" text-anchor="middle" font-weight="normal" fill="#333" >0.2</text>
<line x1="382.39" y1="911.56" x2="385.89" y2="911.56" stroke="#666" stroke-width="0.8" />
<text transform="translate(377.89 911.56) rotate(-90) scale(1 1.12)" font-size="5.8" text-anchor="middle" font-weight="normal" fill="#333" >0.2</text>
<line x1="497.08" y1="972.21" x2="497.08" y2="975.71" stroke="#666" stroke-width="0.8" />
<text transform="translate(497.08 986.50) scale(1 1.12)" font-size="5.8" text-anchor="middle" font-weight="normal" fill="#333" >0.4</text>
<line x1="382.39" y1="861.02" x2="385.89" y2="861.02" stroke="#666" stroke-width="0.8" />
<text transform="translate(377.89 861.02) rotate(-90) scale(1 1.12)" font-size="5.8" text-anchor="middle" font-weight="normal" fill="#333" >0.4</text>
<line x1="547.62" y1="972.21" x2="547.62" y2="975.71" stroke="#666" stroke-width="0.8" />
<text transform="translate(547.62 986.50) scale(1 1.12)" font-size="5.8" text-anchor="middle" font-weight="normal" fill="#333" >0.6</text>
<line x1="382.39" y1="810.48" x2="385.89" y2="810.48" stroke="#666" stroke-width="0.8" />
<text transform="translate(377.89 810.48) rotate(-90) scale(1 1.12)" font-size="5.8" text-anchor="middle" font-weight="normal" fill="#333" >0.6</text>
<line x1="598.16" y1="972.21" x2="598.16" y2="975.71" stroke="#666" stroke-width="0.8" />
<text transform="translate(598.16 986.50) scale(1 1.12)" font-size="5.8" text-anchor="middle" font-weight="normal" fill="#333" >0.8</text>
<line x1="382.39" y1="759.94" x2="385.89" y2="759.94" stroke="#666" stroke-width="0.8" />
<text transform="translate(377.89 759.94) rotate(-90) scale(1 1.12)" font-size="5.8" text-anchor="middle" font-weight="normal" fill="#333" >0.8</text>
<line x1="648.70" y1="972.21" x2="648.70" y2="975.71" stroke="#666" stroke-width="0.8" />
<text transform="translate(648.70 986.50) scale(1 1.12)" font-size="5.8" text-anchor="middle" font-weight="normal" fill="#333" >1.0</text>
<line x1="382.39" y1="709.40" x2="385.89" y2="709.40" stroke="#666" stroke-width="0.8" />
<text transform="translate(377.89 709.40) rotate(-90) scale(1 1.12)" font-size="5.8" text-anchor="middle" font-weight="normal" fill="#333" >1.0</text>
<text transform="translate(522.50 996.90) scale(1 1.12)" font-size="5.9" text-anchor="middle" font-weight="normal" fill="#222" >1 - Specificity (False Positive Rate)</text>
<text transform="translate(367.00 837.00) rotate(-90) scale(1 1.12)" font-size="5.7" text-anchor="middle" font-weight="normal" fill="#222" >Sensitivity (True Positive Rate)</text>
<path d="M396.00,962.10 L396.00,903.78 L432.10,903.78 L432.10,826.03 L468.20,826.03 L468.20,728.84 L540.40,728.84 L540.40,709.40 L648.70,709.40" fill="none" stroke="#CC3A85" stroke-width="1.6" stroke-linejoin="miter" stroke-linecap="butt"/>
<rect x="467.30" y="727.94" width="1.8" height="1.8" fill="#000"/>
<text transform="translate(471.00 734.84) scale(1 1.12)" font-size="5.8" text-anchor="start" font-weight="normal" fill="#222" >0.513 (0.714, 0.923)</text>
<text transform="translate(537.50 852.50) scale(1 1.12)" font-size="5.8" text-anchor="middle" font-weight="normal" fill="#CC3A85" >AUC: 0.802</text>
</svg></body></html>
